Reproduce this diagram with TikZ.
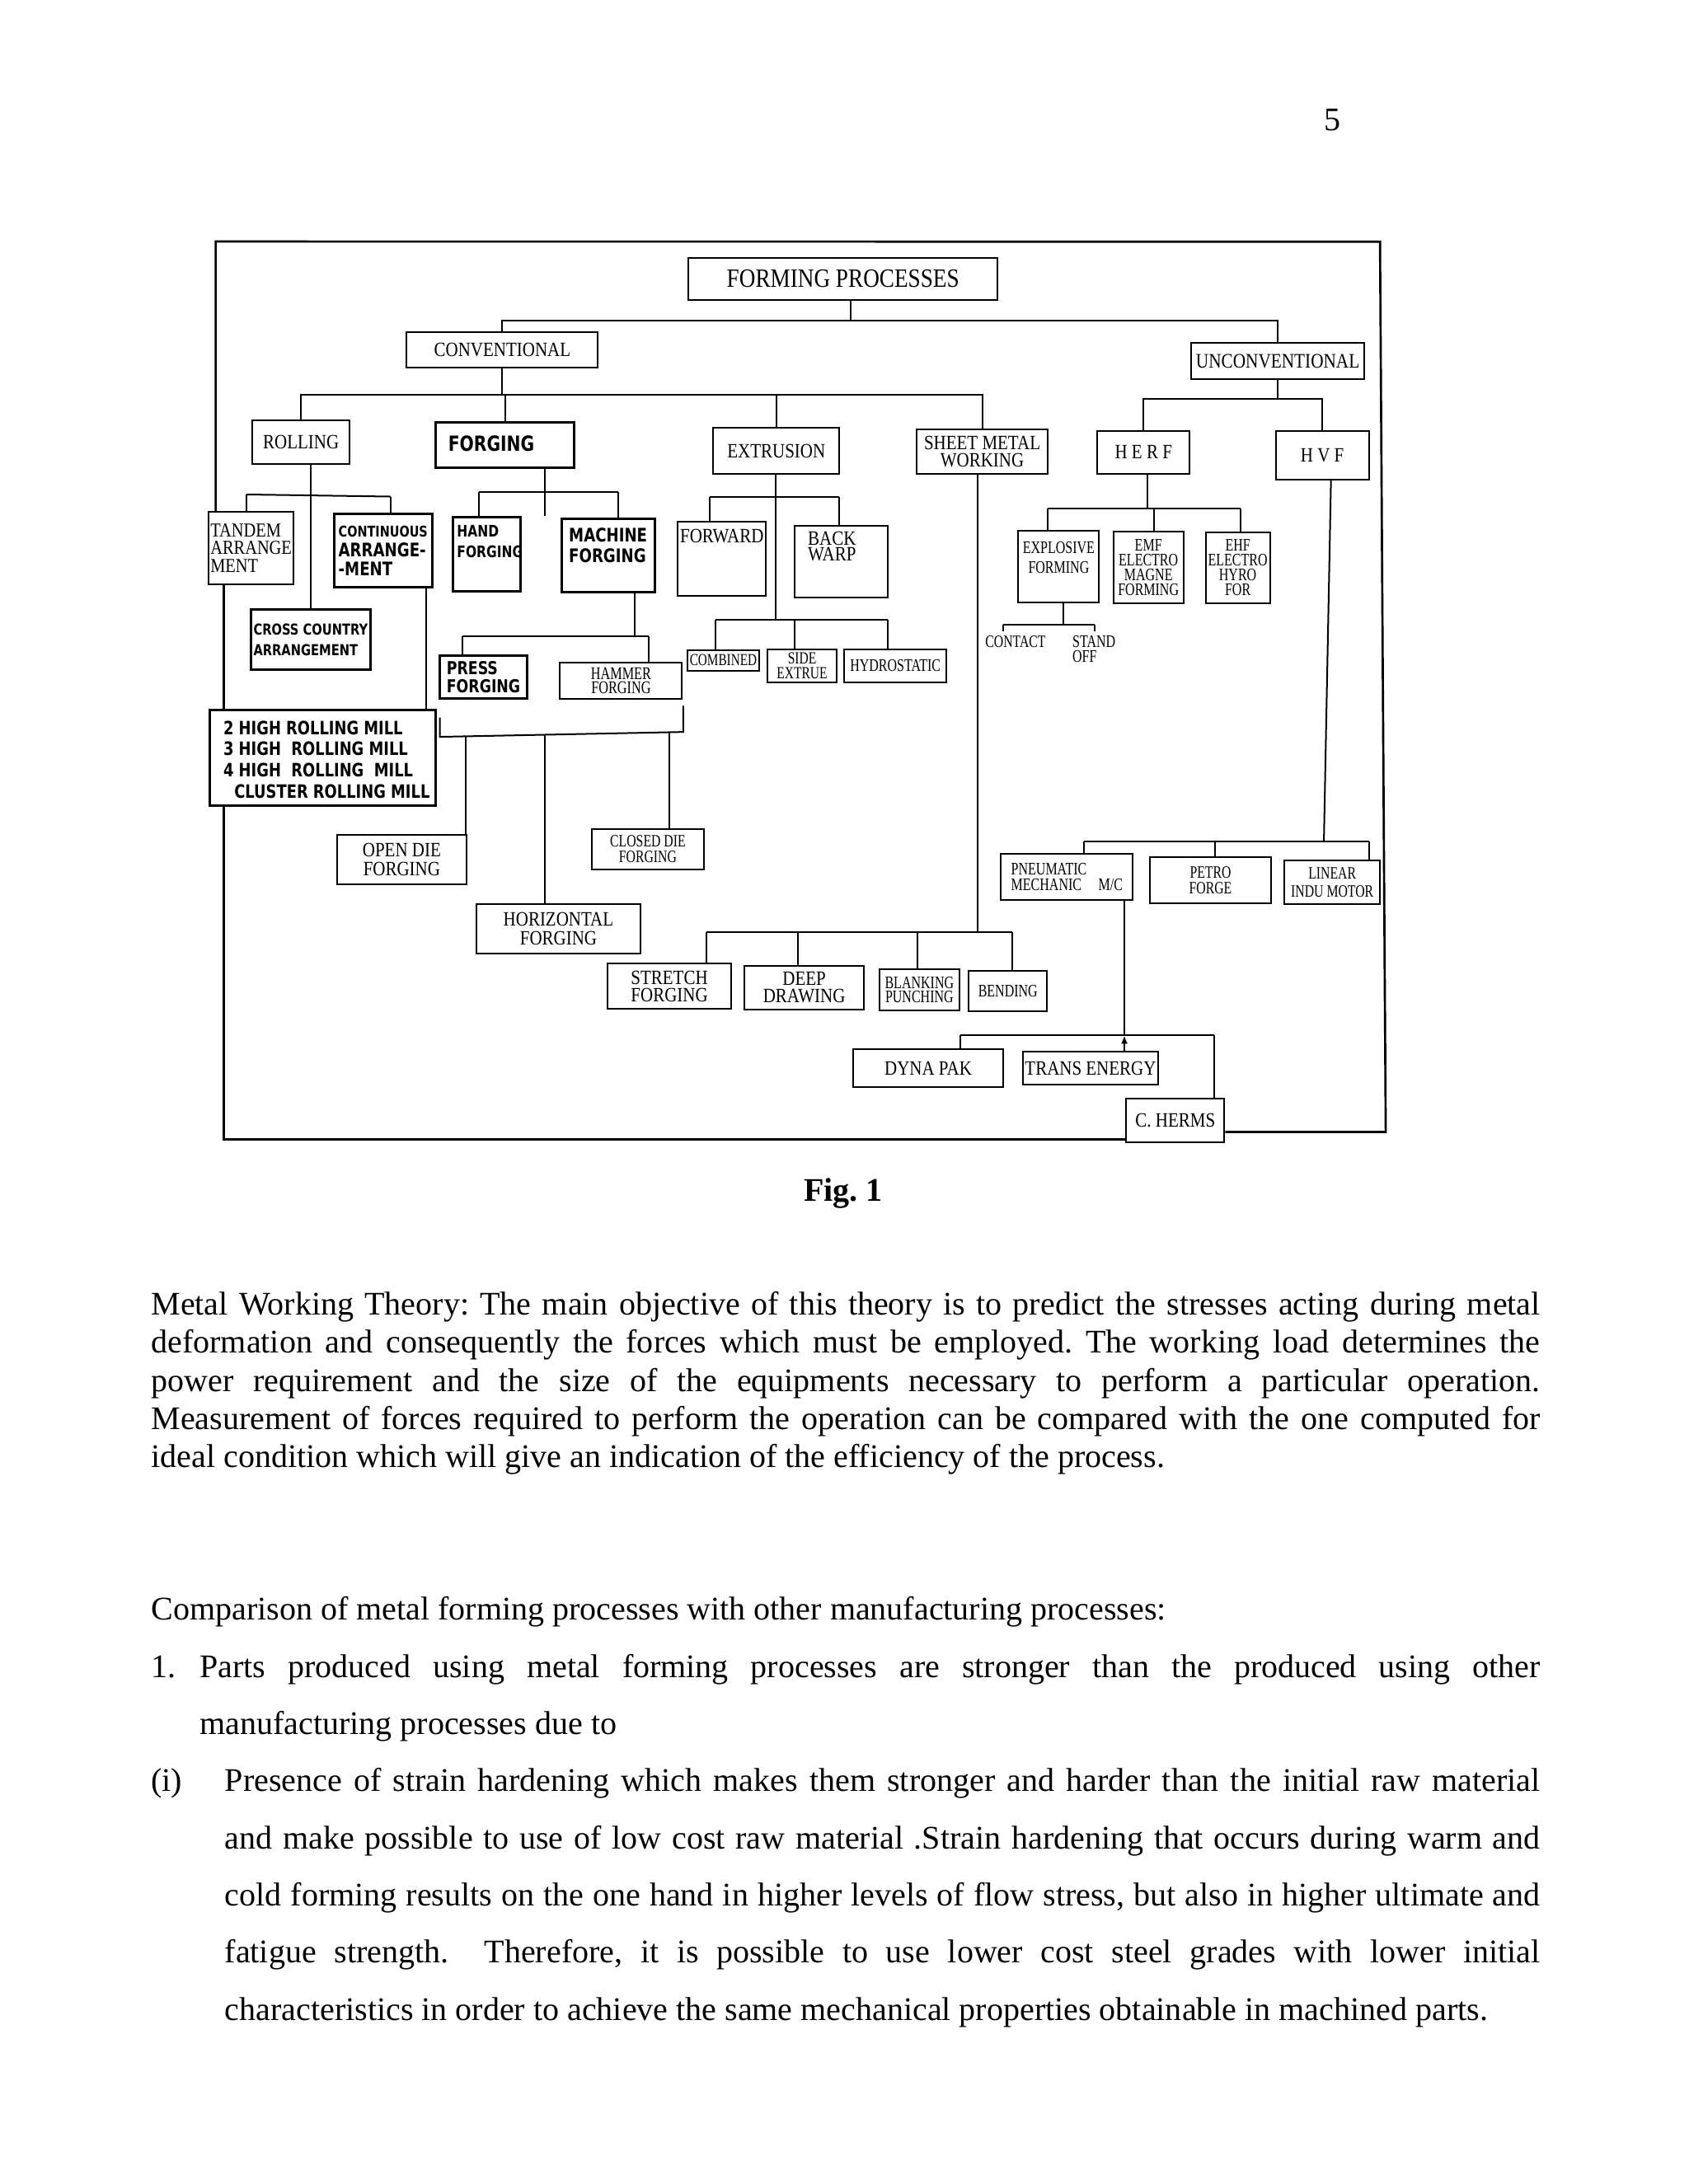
\documentclass[tikz,border=0pt]{standalone}
\usepackage{fontspec}
\setmainfont{Liberation Serif}
\newfontfamily\tyfont[FakeStretch=0.85]{Liberation Serif}
\newfontfamily\smfont[FakeStretch=0.75]{Liberation Serif}
\newfontfamily\hdfont[FakeStretch=0.8]{DejaVu Sans}
\usetikzlibrary{arrows.meta}
\newcommand{\pxu}{0.17813mm}
\frenchspacing

\begin{document}
\begin{tikzpicture}[x=0.17813mm, y=-0.17813mm, line width=0.6pt,
  bx/.style 2 args={draw, minimum width=#1*\pxu, minimum height=#2*\pxu, inner sep=0pt, align=center},
  hbx/.style 2 args={bx={#1}{#2}, line width=0.9pt},
  ty/.style 2 args={font=\tyfont\fontsize{#1}{#2}\selectfont},
  sm/.style 2 args={font=\smfont\fontsize{#1}{#2}\selectfont},
  hw/.style 2 args={font=\hdfont\bfseries\fontsize{#1}{#2}\selectfont},
  txt/.style={inner sep=0pt, align=left},
  body/.style={inner sep=0pt, anchor=base west, font=\fontsize{12}{13.8}\selectfont}]

  \fill[white] (0,0) rectangle (1212,1568);
  \useasboundingbox (0,0) rectangle (1212,1568);

  \node[anchor=base, font=\fontsize{12}{14}\selectfont] (pg) at (956.7,93.7) {5};

  % boxes
  \node[bx={221.9}{30.2}, ty={9.6}{11}] (fp) at (605.15,200.3) {FORMING PROCESSES};
  \node[bx={137.2}{25.3}, ty={7.4}{6.6}] (conv) at (360.6,251.25) {CONVENTIONAL};
  \node[bx={124.6}{26.4}, ty={7.5}{6.6}] (unconv) at (917.2,259.2) {UNCONVENTIONAL};

  \node[bx={69.6}{31.2}, ty={7.4}{6.6}] (roll) at (216.1,317.6) {ROLLING};
  \node[hbx={99.5}{32.8}] (forg) at (362.45,319.4) {};
  \node[hw={7.6}{9}, txt, anchor=west] (forg-t) at (321.2,318.3) {FORGING};
  \node[bx={90.5}{32.7}, ty={7.4}{6.6}] (extr) at (557.25,323.65) {EXTRUSION};
  \node[bx={93.7}{31.7}, ty={7.4}{6.4}] (sheet) at (705.05,324.15) {SHEET METAL\\WORKING};
  \node[bx={66.3}{30.6}, ty={7.4}{6.6}] (herf) at (820.85,324.7) {H E R F};
  \node[bx={67}{34.8}, ty={7.4}{6.6}] (hvf) at (949.2,326.8) {H V F};

  \node[bx={61.1}{51.8}, ty={7.2}{6.4}, align=left] (tandem) at (180.25,393.4) {TANDEM\\ARRANGE\\MENT};
  \node[hbx={70.6}{52.6}, hw={6.8}{7}, align=left] (cont) at (275,395.5) {{\fontsize{5.4}{7}\selectfont CONTINUOUS}\\ARRANGE-\\-MENT};
  \node[hbx={85.6}{42.7}, hw={5.5}{7.5}, align=left] (cross) at (223,459.15) {CROSS COUNTRY\\ARRANGEMENT};
  \node[hbx={48.3}{52.9}] (hand) at (349.35,397.95) {};
  \node[hw={5.8}{7.5}, txt, anchor=west] (hand-t) at (327.5,388.6) {HAND\\FORGING};
  \node[hbx={66.6}{52.8}] (mach) at (436.7,399) {};
  \node[hw={6.8}{7.5}, txt, anchor=west] (mach-t) at (407.8,391.8) {MACHINE\\FORGING};
  \node[bx={63.2}{52.8}] (fwd) at (518.2,401.1) {};
  \node[ty={7.4}{6.6}, inner sep=0pt] (fwd-t) at (518.2,385) {FORWARD};
  \node[bx={66.9}{51.8}] (back) at (603.65,403.3) {};
  \node[ty={7.4}{5.9}, txt, anchor=west] (back-t) at (579.4,392.3) {BACK\\WARP};

  \node[bx={51}{14.8}, sm={6.1}{5.4}] (comb) at (519.2,474) {COMBINED};
  \node[bx={49.9}{23.9}, sm={6.2}{5.3}] (side) at (575.75,477.95) {SIDE\\EXTRUE};
  \node[bx={73.6}{23.9}, sm={6.4}{5.4}] (hydro) at (642.7,477.95) {HYDROSTATIC};

  \node[hbx={62.5}{30.7}, hw={6.5}{6.5}, align=left] (press) at (347.05,486.15) {PRESS\\FORGING};
  \node[bx={87.6}{26}, sm={6.5}{5.1}] (hammer) at (445.8,488.5) {HAMMER\\FORGING};

  \node[hbx={162}{68.2}] (twohigh) at (231.7,544.1) {};
  \node[hw={6.7}{7.7}, txt, anchor=west] (twohigh-t) at (159.8,545.35) {2 HIGH ROLLING MILL\\3 HIGH\ \ ROLLING MILL\\4 HIGH\ \ ROLLING\ \ MILL\\\hspace{1.4mm}CLUSTER ROLLING MILL};

  \node[bx={92.8}{35.3}, ty={7.4}{6.9}] (opendie) at (288.4,616.95) {OPEN DIE\\FORGING};
  \node[bx={80.5}{28.5}, sm={6.3}{5.7}] (closeddie) at (465.05,609.75) {CLOSED DIE\\FORGING};
  \node[bx={117.3}{36}, ty={7.4}{6.8}] (horiz) at (400.85,666.8) {HORIZONTAL\\FORGING};

  \node[bx={89}{32.3}, ty={7.4}{6.4}] (stretch) at (480.5,708.05) {STRETCH\\FORGING};
  \node[bx={85.6}{31.7}, ty={7.4}{6.4}] (deep) at (577.3,709.05) {DEEP\\DRAWING};
  \node[bx={57.1}{29.3}, sm={6.4}{5.3}] (blank) at (659.95,710.65) {BLANKING\\PUNCHING};
  \node[bx={56.2}{28.7}, sm={6.4}{5.4}] (bend) at (723.5,711.65) {BENDING};

  \node[bx={58.3}{51.5}] (expl) at (759.75,406.55) {};
  \node[sm={6.4}{7}, inner sep=0pt, align=center] (expl-t) at (760,400.3) {EXPLOSIVE\\FORMING};
  \node[bx={50.3}{51.4}, sm={6.4}{5.4}] (emf) at (824.35,407.3) {EMF\\ELECTRO\\MAGNE\\FORMING};
  \node[bx={46.2}{50.7}, sm={6.4}{5.4}] (ehf) at (888.5,407.65) {EHF\\ELECTRO\\HYRO\\FOR};
  \node[sm={6.3}{5.4}, inner sep=0pt] (contact) at (729,461) {CONTACT};
  \node[sm={6.4}{5.4}, txt, anchor=west] (standoff) at (769.3,466.2) {STAND\\OFF};

  \node[bx={94.6}{33.3}, sm={6.4}{5.7}, align=left] (pneu) at (765.9,629.75) {PNEUMATIC\\MECHANIC\hspace{5pt} M/C};
  \node[bx={86.8}{33.1}, sm={6.3}{5.5}] (petro) at (868.9,632.05) {PETRO\\FORGE};
  \node[bx={68.6}{31.2}, sm={6.3}{6.5}] (linear) at (956.3,633.4) {LINEAR\\INDU MOTOR};

  \node[bx={107.8}{27.4}, ty={7.4}{6.6}] (dyna) at (666.3,766.9) {DYNA PAK};
  \node[bx={97.6}{23.6}, ty={7.4}{6.6}] (trans) at (782.8,767) {TRANS ENERGY};
  \node[bx={70.5}{31.2}, ty={7.4}{6.6}] (cherms) at (843.65,804.6) {C. HERMS};

  % top levels
  \coordinate (b1) at (610.6,230.1);
  \draw (fp.south -| b1) -- (b1);
  \draw (conv.north) |- (b1) -| (unconv.north);
  \coordinate (b2) at (360.6,283.5);
  \draw (conv.south) -- (b2);
  \draw (roll.north) |- (b2) -| (sheet.north);
  \draw (b2 -| forg.north) -- (forg.north);
  \draw (b2 -| extr.north) -- (extr.north);
  \coordinate (b3) at (917.2,286.5);
  \draw (unconv.south) -- (b3);
  \draw (herf.north) |- (b3) -| (hvf.north);

  % rolling
  \coordinate (rl) at (176.8,355);
  \coordinate (rr) at (280.4,356.5);
  \coordinate (ct) at (305.9,514.2);
  \draw (rl) -- (rr);
  \draw (rl) -- (tandem.north -| rl);
  \draw (rr) -- (cont.north -| rr);
  \draw (roll.south -| cross.north) -- (cross.north);
  \draw (cont.south -| ct) -- (twohigh.north -| ct);

  % forging
  \coordinate (fl) at (343.6,353.5);
  \coordinate (fr) at (443.5,353.5);
  \coordinate (fm) at (391.2,353.5);
  \draw (fl) -- (fr);
  \draw (fl) -- (hand.north -| fl);
  \draw (fr) -- (mach.north -| fr);
  \draw (forg.south -| fm) -- (hand.north -| fm);
  \coordinate (ml) at (331.7,457);
  \coordinate (mr) at (465.6,457);
  \coordinate (mm) at (455.4,457);
  \draw (mach.south -| mm) -- (mm);
  \draw (ml) -- (mr);
  \draw (ml) -- (press.north -| ml);
  \draw (mr) -- (hammer.north -| mr);
  \coordinate (ku1) at (315.8,515.2);
  \coordinate (kl) at (315.8,529);
  \coordinate (kr) at (490.4,525.5);
  \coordinate (ku2) at (490.4,506.7);
  \draw (ku1) -- (kl) -- (kr) -- (ku2);
  \coordinate (ko) at (334.1,528.6);
  \coordinate (kh) at (391.2,527.5);
  \coordinate (kc) at (480.2,525.7);
  \draw (ko) -- (opendie.north -| ko);
  \draw (kh) -- (horiz.north -| kh);
  \draw (kc) -- (closeddie.north -| kc);

  % extrusion
  \coordinate (el) at (509.7,356.7);
  \coordinate (er) at (602.4,356.7);
  \coordinate (xl) at (513.8,444.8);
  \coordinate (xs) at (570.2,444.8);
  \coordinate (xr) at (637.1,444.8);
  \coordinate (xm) at (556.5,444.8);
  \draw (el) -- (er);
  \draw (el) -- (fwd.north -| el);
  \draw (er) -- (back.north -| er);
  \draw (extr.south -| xm) -- (xm);
  \draw (xl) -- (xr);
  \draw (xl) -- (comb.north -| xl);
  \draw (xs) -- (side.north -| xs);
  \draw (xr) -- (hydro.north -| xr);

  % sheet metal
  \coordinate (sl) at (507.3,669);
  \coordinate (sd) at (572.6,669);
  \coordinate (sb) at (658.6,669);
  \coordinate (sr) at (726.5,669);
  \coordinate (sh) at (701.5,669);
  \draw (sheet.south -| sh) -- (sh);
  \draw (sl) -- (sr);
  \draw (sl) -- (stretch.north -| sl);
  \draw (sd) -- (deep.north -| sd);
  \draw (sb) -- (blank.north -| sb);
  \draw (sr) -- (bend.north -| sr);

  % herf
  \coordinate (hl) at (752.2,365);
  \coordinate (hm) at (823.8,365);
  \coordinate (he) at (828.1,365);
  \coordinate (hr) at (890.5,365);
  \draw (herf.south -| hm) -- (hm);
  \draw (hl) -- (hr);
  \draw (hl) -- (expl.north -| hl);
  \draw (he) -- (emf.north -| he);
  \draw (hr) -- (ehf.north -| hr);
  \coordinate (pl) at (720.2,448.4);
  \coordinate (pm) at (763.2,448.4);
  \coordinate (pr) at (785.7,448.4);
  \draw (expl.south -| pm) -- (pm);
  \draw (pl) -- (pr);
  \draw (pl) -- ++(0,5);
  \draw (pr) -- ++(0,5);

  % hvf
  \coordinate (vt) at (955.4,344.2);
  \coordinate (vl) at (778,604.4);
  \coordinate (vp) at (872.3,604.4);
  \coordinate (vm) at (950.3,604.4);
  \coordinate (vr) at (982.8,604.4);
  \draw (hvf.south -| vt) -- (vm);
  \draw (vl) -- (vr);
  \draw (vl) -- (pneu.north -| vl);
  \draw (vp) -- (petro.north -| vp);
  \draw (vr) -- (linear.north -| vr);
  \coordinate (nl) at (689.6,743.4);
  \coordinate (nm) at (807.1,743.4);
  \coordinate (nr) at (871.8,743.4);
  \draw (pneu.south -| nm) -- (nm);
  \draw (nl) -- (nr);
  \draw (nl) -- (dyna.north -| nl);
  \draw (nr) -- (cherms.north -| nr);
  \draw[-{Latex[length=3pt,width=2.4pt]}] (trans.north -| nm) -- (nm);

  % frame
  \coordinate (ftl) at (154.8,173.4);
  \coordinate (ftr) at (990.6,173.5);
  \coordinate (fbr) at (994.7,812.7);
  \coordinate (fbl) at (160.8,818);
  \draw[line width=0.8pt] (tandem.north -| ftl) -- (ftl) -- (ftr) -- (fbr) -- (cherms.east |- fbr);
  \draw[line width=0.8pt] (cherms.west |- fbl) -- (fbl) -- (twohigh.south -| fbl);
  \draw[line width=0.8pt] (tandem.south -| fbl) -- (twohigh.north -| fbl);

  \node[anchor=base, font=\bfseries\fontsize{12}{14}\selectfont] (fig) at (605.3,862.4) {Fig. 1};

  % text
  \node[body] (t1) at (108,944.2) {\makebox[177.6mm][s]{Metal Working Theory: The main objective of this theory is to predict the stresses acting during metal}};
  \node[body] (t2) at (108,971.5) {\makebox[177.6mm][s]{deformation and consequently the forces which must be employed. The working load determines the}};
  \node[body] (t3) at (108,998.8) {\makebox[177.6mm][s]{power requirement and the size of the equipments necessary to perform a particular operation.}};
  \node[body] (t4) at (108,1026.1) {\makebox[177.6mm][s]{Measurement of forces required to perform the operation can be compared with the one computed for}};
  \node[body] (t5) at (108,1053.4) {ideal condition which will give an indication of the efficiency of the process.};
  \node[body] (c0) at (108,1163) {Comparison of metal forming processes with other manufacturing processes:};
  \node[body] (c1n) at (108,1204.3) {1.};
  \node[body] (c1) at (142.9,1204.3) {\makebox[171.4mm][s]{Parts produced using metal forming processes are stronger than the produced using other}};
  \node[body] (c2) at (142.9,1245.3) {manufacturing processes due to};
  \node[body] (c3n) at (108,1286.3) {(i)};
  \node[body] (c3) at (160.8,1286.3) {\makebox[168.2mm][s]{Presence of strain hardening which makes them stronger and harder than the initial raw material}};
  \node[body] (c4) at (160.8,1327.3) {\makebox[168.2mm][s]{and make possible to use of low cost raw material .Strain hardening that occurs during warm and}};
  \node[body] (c5) at (160.8,1368.3) {\makebox[168.2mm][s]{cold forming results on the one hand in higher levels of flow stress, but also in higher ultimate and}};
  \node[body] (c6) at (160.8,1409.3) {\makebox[168.2mm][s]{fatigue strength.~ Therefore, it is possible to use lower cost steel grades with lower initial}};
  \node[body] (c7) at (160.8,1450.3) {characteristics in order to achieve the same mechanical properties obtainable in machined parts.};
\end{tikzpicture}
\end{document}
